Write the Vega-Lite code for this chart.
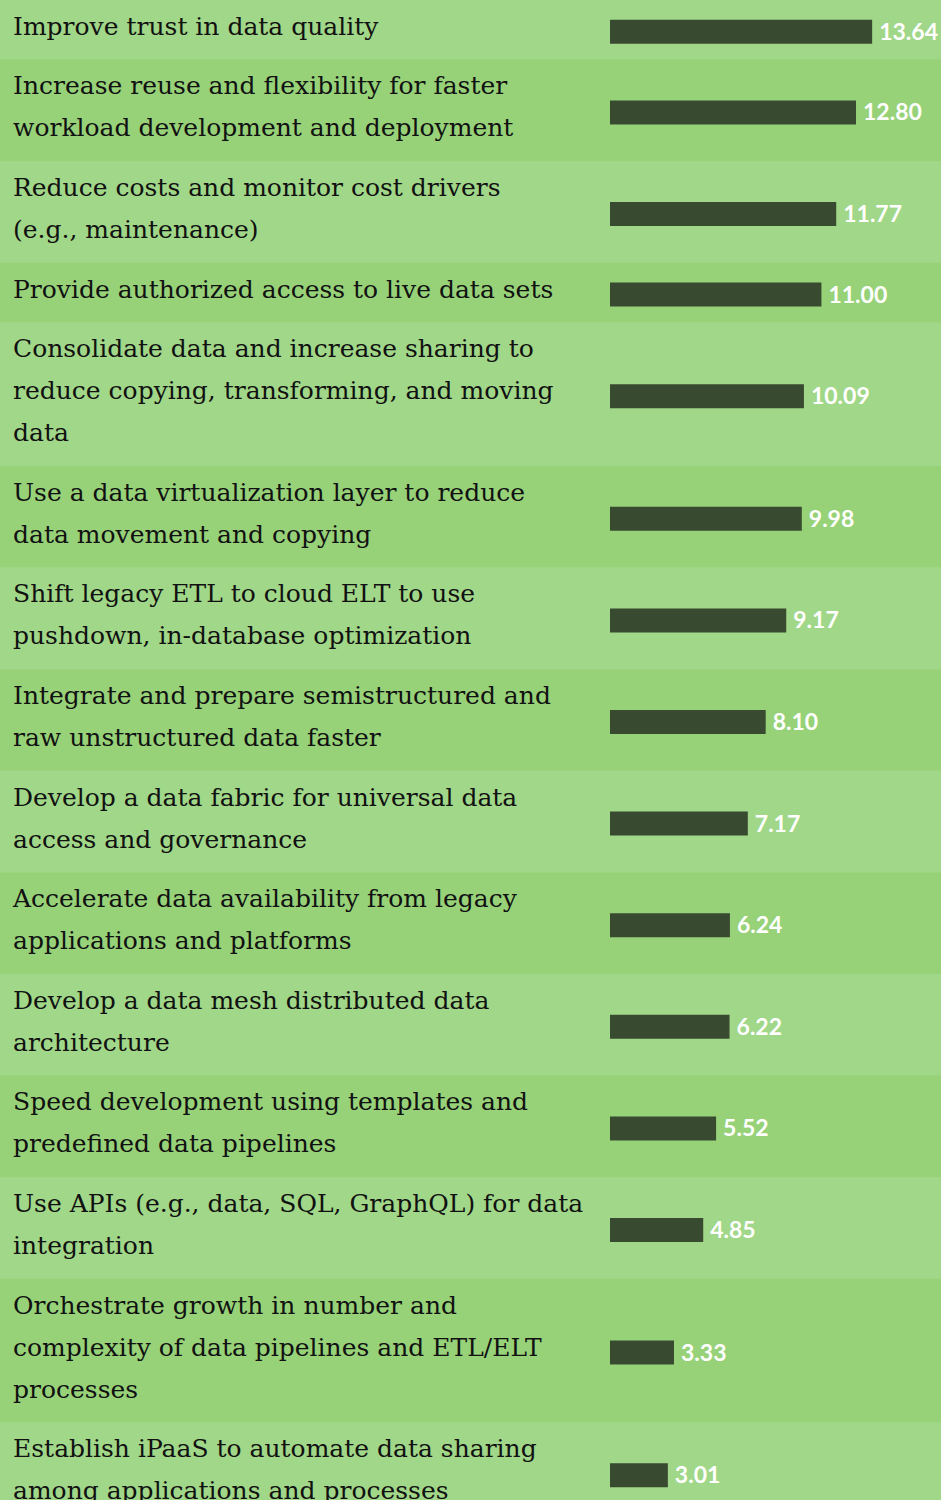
{
  "$schema": "https://vega.github.io/schema/vega-lite/v6.json",
  "width": 941,
  "height": 1500,
  "padding": 0,
  "autosize": {"type": "none"},
  "background": "#a1d788",
  "config": {"view": {"stroke": null}},
  "data": {
    "values": [
      {"rank": 1, "label": ["Improve trust in data quality"], "value": 13.64},
      {"rank": 2, "label": ["Increase reuse and flexibility for faster", "workload development and deployment"], "value": 12.80},
      {"rank": 3, "label": ["Reduce costs and monitor cost drivers", "(e.g., maintenance)"], "value": 11.77},
      {"rank": 4, "label": ["Provide authorized access to live data sets"], "value": 11.00},
      {"rank": 5, "label": ["Consolidate data and increase sharing to", "reduce copying, transforming, and moving", "data"], "value": 10.09},
      {"rank": 6, "label": ["Use a data virtualization layer to reduce", "data movement and copying"], "value": 9.98},
      {"rank": 7, "label": ["Shift legacy ETL to cloud ELT to use", "pushdown, in-database optimization"], "value": 9.17},
      {"rank": 8, "label": ["Integrate and prepare semistructured and", "raw unstructured data faster"], "value": 8.10},
      {"rank": 9, "label": ["Develop a data fabric for universal data", "access and governance"], "value": 7.17},
      {"rank": 10, "label": ["Accelerate data availability from legacy", "applications and platforms"], "value": 6.24},
      {"rank": 11, "label": ["Develop a data mesh distributed data", "architecture"], "value": 6.22},
      {"rank": 12, "label": ["Speed development using templates and", "predefined data pipelines"], "value": 5.52},
      {"rank": 13, "label": ["Use APIs (e.g., data, SQL, GraphQL) for data", "integration"], "value": 4.85},
      {"rank": 14, "label": ["Orchestrate growth in number and", "complexity of data pipelines and ETL/ELT", "processes"], "value": 3.33},
      {"rank": 15, "label": ["Establish iPaaS to automate data sharing", "among applications and processes"], "value": 3.01}
    ]
  },
  "transform": [
    {"calculate": "length(datum.label)", "as": "n"},
    {"calculate": "42 * datum.n + 17.6", "as": "h"},
    {"window": [{"op": "sum", "field": "h", "as": "end"}], "sort": [{"field": "rank"}], "frame": [null, 0]},
    {"calculate": "datum.end - datum.h", "as": "start"},
    {"calculate": "datum.start + datum.h / 2", "as": "mid"},
    {"calculate": "datum.mid - (datum.n - 1) * 21", "as": "firstLine"},
    {"calculate": "datum.rank % 2 == 1 ? 'odd' : 'even'", "as": "parity"}
  ],
  "encoding": {
    "y": {"field": "mid", "type": "quantitative", "scale": {"domain": [0, 1500], "range": [0, 1500], "nice": false, "zero": false, "padding": 0}, "axis": null}
  },
  "layer": [
    {
      "mark": {"type": "rect", "clip": true},
      "encoding": {
        "y": {"field": "start", "type": "quantitative"},
        "y2": {"field": "end"},
        "color": {"field": "parity", "type": "nominal", "scale": {"domain": ["odd", "even"], "range": ["#a1d788", "#97d279"]}, "legend": null}
      }
    },
    {
      "mark": {"type": "bar", "orient": "horizontal", "height": 24, "color": "#384a30", "yOffset": 2, "clip": true},
      "encoding": {
        "x": {"field": "value", "type": "quantitative", "scale": {"domain": [0, 17.222], "range": [610, 941], "nice": false, "zero": true}, "axis": null},
        "x2": {"datum": 0}
      }
    },
    {
      "mark": {"type": "text", "align": "left", "baseline": "middle", "dx": 7, "dy": 3, "color": "#ffffff", "font": "Lato", "fontWeight": "bold", "fontSize": 23, "clip": true},
      "encoding": {
        "x": {"field": "value", "type": "quantitative"},
        "text": {"field": "value", "type": "quantitative", "format": ".2f"}
      }
    },
    {
      "mark": {"type": "text", "align": "left", "baseline": "middle", "dy": -3, "lineHeight": 42, "color": "#111111", "font": "DejaVu Serif", "fontSize": 25, "clip": true},
      "encoding": {
        "x": {"value": 13},
        "y": {"field": "firstLine", "type": "quantitative"},
        "text": {"field": "label"}
      }
    }
  ]
}
